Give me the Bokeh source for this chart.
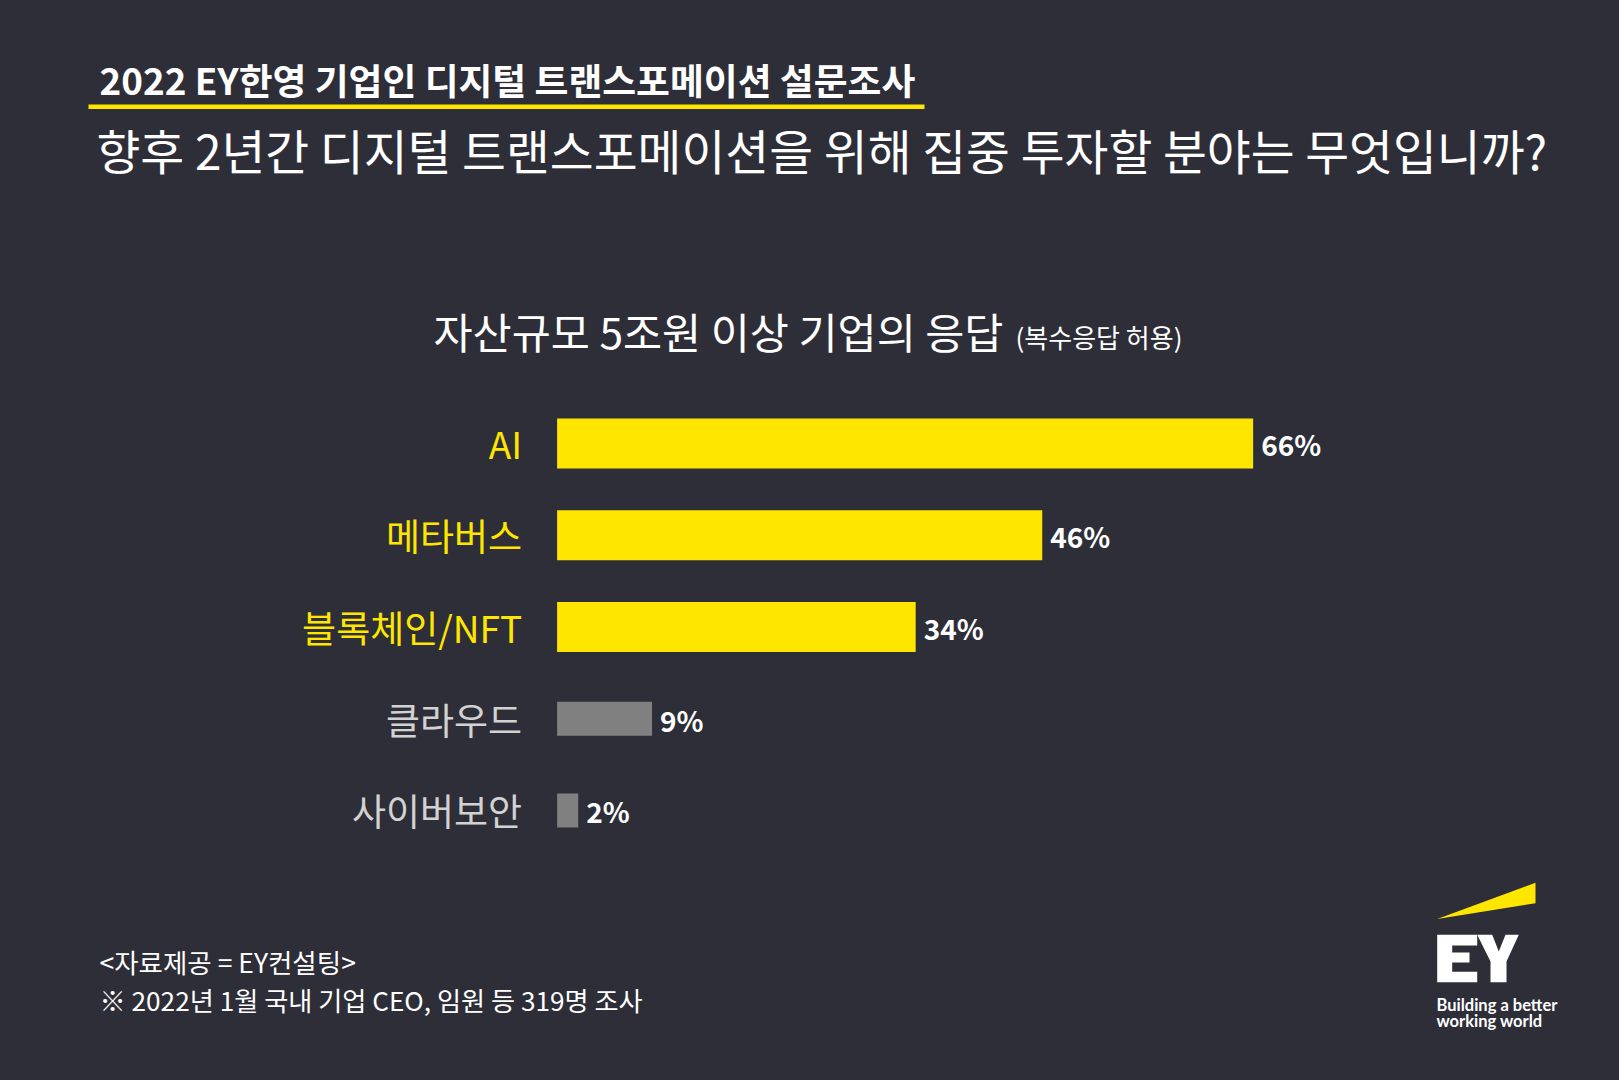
from bokeh.plotting import figure
from bokeh.models import Range1d, ColumnDataSource
from bokeh.core.properties import value
from bokeh.embed import file_html
from bokeh.resources import INLINE

# ---------------- data ----------------
categories = ["AI", "메타버스", "블록체인/NFT", "클라우드", "사이버보안"]
values = [66, 46, 34, 9, 2]
highlighted = [True, True, True, False, False]

header_text = "2022 EY한영 기업인 디지털 트랜스포메이션 설문조사"
question_text = "향후 2년간 디지털 트랜스포메이션을 위해 집중 투자할 분야는 무엇입니까?"
subtitle_text = "자산규모 5조원 이상 기업의 응답"
subtitle_note = "(복수응답 허용)"
source_text = "<자료제공 = EY컨설팅>"
footnote_text = "※ 2022년 1월 국내 기업 CEO, 임원 등 319명 조사"
tagline = ["Building a better", "working world"]

# ---------------- style ----------------
BG = "#2e2e38"
YELLOW = "#ffe600"
GRAY_BAR = "#808080"
GRAY_TXT = "#d2d2d2"
WHITE = "#ffffff"
KR = value("Noto Sans CJK KR")

W, H = 1619, 1080

p = figure(width=W, height=H, output_backend="svg", toolbar_location=None,
           x_range=Range1d(-52.78, 100.74), y_range=Range1d(6.943, -4.828),
           x_axis_location=None, y_axis_location=None, min_border=0)
p.background_fill_color = BG
p.border_fill_color = BG
p.outline_line_color = None
p.grid.visible = False
# pixel coordinate ranges for decorative texts
p.extra_x_ranges = {"px": Range1d(0, W)}
p.extra_y_ranges = {"px": Range1d(H, 0)}

rows = list(range(len(categories)))
bar_colors = [YELLOW if h else GRAY_BAR for h in highlighted]
bar_heights = [0.545 if h else 0.37 for h in highlighted]
label_colors = [YELLOW if h else GRAY_TXT for h in highlighted]
src = ColumnDataSource(dict(
    y=rows, cat=categories, val=values, zero=[0] * len(values),
    color=bar_colors, h=bar_heights, lcolor=label_colors,
    vlabel=[f"{v}%" for v in values]))

p.hbar(y="y", left="zero", right="val", height="h", fill_color="color",
       line_color=None, source=src)
p.text(x="zero", y="y", text="cat", x_offset=-35, text_align="right",
       text_baseline="middle", text_color="lcolor", text_font=KR,
       text_font_size="37px", source=src)
p.text(x="val", y="y", text="vlabel", x_offset=8, y_offset=1, text_align="left",
       text_baseline="middle", text_color=WHITE, text_font=KR,
       text_font_style="bold", text_font_size="28px", source=src)


def ptext(x, y, t, size, color=WHITE, style="normal", font=KR, align="left"):
    p.text(x=[x], y=[y], text=[t], text_font=font, text_font_size=size,
           text_font_style=style, text_color=color, text_align=align,
           text_baseline="middle", x_range_name="px", y_range_name="px")


# header
ptext(99, 78, header_text, "36.8px", style="bold")
p.quad(left=[88], right=[924], top=[104], bottom=[108.5], fill_color=YELLOW,
       line_color=None, x_range_name="px", y_range_name="px")
ptext(96, 149, question_text, "47.7px")

# subtitle
ptext(433, 330, subtitle_text, "42.5px")
ptext(1015, 336, subtitle_note, "26px")

# footer
ptext(99, 961, source_text, "26.5px")
ptext(99, 999, footnote_text, "26.2px")

# EY logo
beam_x = [1436.7, 1535, 1535]
beam_y = [918.5, 882.3, 902.7]
e_x = [1436.7, 1476.7, 1476.7, 1451.7, 1451.7, 1469, 1469, 1451.7, 1451.7, 1476.7, 1476.7, 1436.7]
e_y = [934.3, 934.3, 945, 945, 952, 952, 962, 962, 971.3, 971.3, 981.7, 981.7]
y_x = [1476.7, 1491.7, 1498.3, 1505, 1518.3, 1506, 1506, 1490, 1490]
y_y = [934.3, 934.3, 951, 934.3, 934.3, 961, 981.7, 981.7, 961]
p.patches(xs=[beam_x], ys=[beam_y], fill_color=YELLOW, line_color=None,
          x_range_name="px", y_range_name="px")
p.patches(xs=[e_x, y_x], ys=[e_y, y_y], fill_color=WHITE, line_color=None,
          x_range_name="px", y_range_name="px")
ptext(1436, 1004, tagline[0], "16.5px", style="bold", font=value("Lato"))
ptext(1436, 1020, tagline[1], "16.5px", style="bold", font=value("Lato"))

html = file_html(p, INLINE, title="EY 디지털 트랜스포메이션 설문조사")
html = html.replace("</head>", "<style>html,body{background:#2e2e38;}</style></head>", 1)
open("out.html", "w").write(html)
